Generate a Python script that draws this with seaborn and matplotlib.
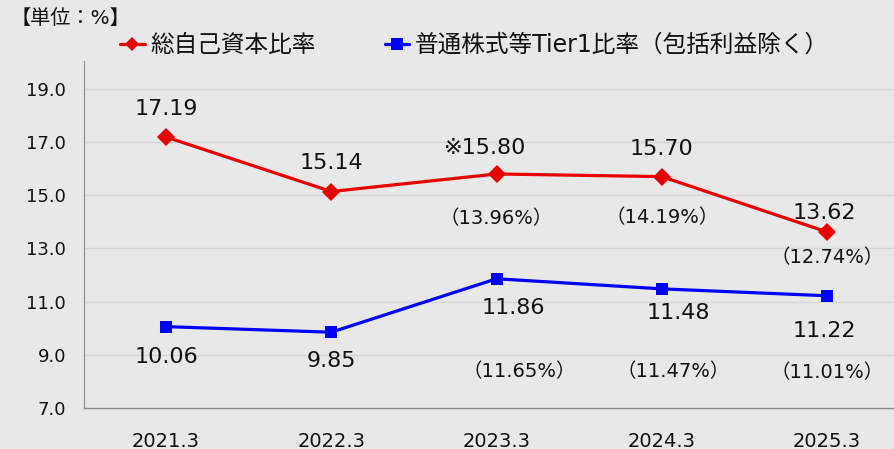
import pandas as pd
import matplotlib.pyplot as plt
import seaborn as sns
from matplotlib.lines import Line2D

# Data
years = ["2021.3", "2022.3", "2023.3", "2024.3", "2025.3"]
total_ratio = [17.19, 15.14, 15.80, 15.70, 13.62]
cet1_ratio = [10.06, 9.85, 11.86, 11.48, 11.22]
total_labels = ["17.19", "15.14", "※15.80", "15.70", "13.62"]
total_sub = [None, None, "（13.96%）", "（14.19%）", "（12.74%）"]
cet1_sub = [None, None, "（11.65%）", "（11.47%）", "（11.01%）"]
series_names = ["総自己資本比率", "普通株式等Tier1比率（包括利益除く）"]

df = pd.DataFrame({
    "year": years * 2,
    "value": total_ratio + cet1_ratio,
    "series": [series_names[0]] * 5 + [series_names[1]] * 5,
})

bg = "#E8E8E8"
red = "#E60000"
blue = "#0000FF"
sns.set_theme(style="white")
plt.rcParams["font.family"] = ["DejaVu Sans", "Noto Sans CJK JP"]

fig = plt.figure(figsize=(8.94, 4.49), dpi=100, facecolor=bg)
ax = fig.add_axes([0.094, 0.0913, 0.906, 0.773])
ax.set_facecolor(bg)

sns.lineplot(data=df, x="year", y="value", hue="series", style="series",
             palette=[red, blue], markers=["D", "s"], dashes=False,
             markersize=9, linewidth=2.3, markeredgewidth=0, legend=False,
             sort=False, ax=ax)

ax.set_xlim(-0.496, 4.405)
ax.set_ylim(7, 20.05)
yt = [7, 9, 11, 13, 15, 17, 19]
ax.set_yticks(yt)
ax.set_yticklabels([f"{v:.1f}" for v in yt], fontsize=13, color="#111111")
ax.set_xticks(range(len(years)))
ax.set_xticklabels(years, fontsize=14, color="#111111")
ax.tick_params(axis="y", pad=13, length=0)
ax.tick_params(axis="x", pad=17, length=0)
ax.set_xlabel("")
ax.set_ylabel("")
for y in yt[1:]:
    ax.axhline(y, color="#D6D6D6", lw=1, zorder=0)
for s in ["top", "right"]:
    ax.spines[s].set_visible(False)
ax.spines["left"].set_color("#8C8C8C")
ax.spines["left"].set_linestyle((0, (2, 1)))
ax.spines["left"].set_linewidth(0.8)
ax.spines["bottom"].set_color("#8C8C8C")
ax.spines["bottom"].set_linewidth(1)

# value labels (pixel offsets, dpi=100 -> 0.72 pt per px)
k = 0.72
red_off = [(0, 28), (0, 29), (-11, 26), (0, 28), (-3, 19)]
red_sub_off = [None, None, (0, -45), (0, -41), (0, -26)]
blue_off = [(0, -30), (0, -29), (17, -29), (17, -24), (-3, -35)]
blue_sub_off = [None, None, (23, -93), (11, -83), (0, -77)]

for i in range(len(years)):
    dx, dy = red_off[i]
    ax.annotate(total_labels[i], (i, total_ratio[i]), xytext=(dx * k, dy * k),
                textcoords="offset points", ha="center", va="center",
                fontsize=16, color="#111111")
    if total_sub[i]:
        dx, dy = red_sub_off[i]
        ax.annotate(total_sub[i], (i, total_ratio[i]), xytext=(dx * k, dy * k),
                    textcoords="offset points", ha="center", va="center",
                    fontsize=14, color="#111111")
    dx, dy = blue_off[i]
    ax.annotate(f"{cet1_ratio[i]:.2f}", (i, cet1_ratio[i]), xytext=(dx * k, dy * k),
                textcoords="offset points", ha="center", va="center",
                fontsize=16, color="#111111")
    if cet1_sub[i]:
        dx, dy = blue_sub_off[i]
        ax.annotate(cet1_sub[i], (i, cet1_ratio[i]), xytext=(dx * k, dy * k),
                    textcoords="offset points", ha="center", va="center",
                    fontsize=14, color="#111111")

fig.text(0.012, 1 - 18 / 449, "【単位：%】", fontsize=14.5, va="center", ha="left", color="#111111")

handles = [
    Line2D([], [], color=red, marker="D", markersize=7, lw=2.3, markeredgewidth=0),
    Line2D([], [], color=blue, marker="s", markersize=8, lw=2.3, markeredgewidth=0),
]
fig.legend(handles, series_names, loc="center left", bbox_to_anchor=(120 / 894, 1 - 45 / 449),
           ncol=2, frameon=False, fontsize=17, handlelength=1.05, handletextpad=0.25,
           columnspacing=2.9, borderpad=0, borderaxespad=0, labelcolor="#111111")

fig.savefig("out.png", dpi=100, facecolor=bg)
